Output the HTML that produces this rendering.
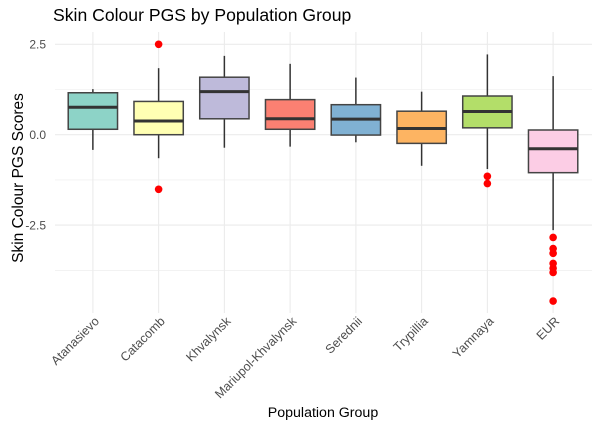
<!DOCTYPE html>
<html><head><meta charset="utf-8"><style>
html,body{margin:0;padding:0;background:#fff;}
svg{display:block;font-family:"Liberation Sans",sans-serif;}
</style></head><body>
<svg id="chart" width="600" height="431"></svg>
<script>
const categories=["Atanasievo","Catacomb","Khvalynsk","Mariupol-Khvalynsk","Serednii","Trypillia","Yamnaya","EUR"];
const lowWhisker=[-0.42,-0.65,-0.36,-0.33,-0.21,-0.86,-0.95,-2.64];
const q1=[0.15,0.0,0.44,0.15,-0.01,-0.24,0.19,-1.05];
const median=[0.76,0.38,1.19,0.44,0.43,0.17,0.64,-0.39];
const q3=[1.16,0.92,1.59,0.97,0.83,0.65,1.07,0.13];
const highWhisker=[1.26,1.84,2.18,1.96,1.58,1.19,2.22,1.62];
const outliers=[[],[2.5,-1.51],[],[],[],[],[-1.15,-1.35],[-2.84,-3.15,-3.28,-3.56,-3.69,-3.81,-4.60]];
const colors=["#8DD3C7","#FFFFB3","#BEBADA","#FB8072","#80B1D3","#FDB462","#B3DE69","#FCCDE5"];
const yTicks=[2.5,0,-2.5];
const yTickLabels=["2.5","0.0","-2.5"];
const yMinor=[1.25,-1.25,-3.75];

const NS="http://www.w3.org/2000/svg";
const svg=document.getElementById('chart');
const GL=55,GR=592,T=32,B=313;
const SL=60,SR=586;
const y=v=>134.7-36.16*v;
const step=(SR-SL)/categories.length;
const x=i=>SL+step*(i+0.5);
const bw=step*0.75;
function mk(t,a,p){const e=document.createElementNS(NS,t);for(const k in a)e.setAttribute(k,a[k]);(p||svg).appendChild(e);return e;}

let e;
e=mk('text',{x:53,y:21,'font-size':17.6,fill:'#000'});e.textContent='Skin Colour PGS by Population Group';



yMinor.forEach(v=>{e=mk('line',{x1:GL,x2:GR,y1:y(v),y2:y(v),stroke:'#ebebeb','stroke-width':0.6});

});
yTicks.forEach((v,i)=>{e=mk('line',{x1:GL,x2:GR,y1:y(v),y2:y(v),stroke:'#ebebeb','stroke-width':1.1});


e=mk('text',{x:46,y:y(v)+4.3,'font-size':12,fill:'#4d4d4d','text-anchor':'end'});e.textContent=yTickLabels[i];

});
categories.forEach((c,i)=>{e=mk('line',{x1:x(i),x2:x(i),y1:T,y2:B,stroke:'#ebebeb','stroke-width':1.1});

});

categories.forEach((c,i)=>{
  const g=mk('g',{});
  
  
  mk('line',{x1:x(i),x2:x(i),y1:y(highWhisker[i]),y2:y(lowWhisker[i]),stroke:'#333','stroke-width':1.5},g);
  mk('rect',{x:x(i)-bw/2,y:y(q3[i]),width:bw,height:y(q1[i])-y(q3[i]),fill:colors[i],stroke:'#444','stroke-width':1.5},g);
  mk('line',{x1:x(i)-bw/2,x2:x(i)+bw/2,y1:y(median[i]),y2:y(median[i]),stroke:'#333','stroke-width':3},g);
  outliers[i].forEach(o=>{const p=mk('circle',{cx:x(i),cy:y(o),r:3.8,fill:'#ff0000'},g);
    
    });
  const t=mk('text',{transform:`translate(${x(i)+7},${B+9}) rotate(-45)`,'font-size':12.5,fill:'#4d4d4d','text-anchor':'end'});
  t.textContent=c;
  
  
});

e=mk('text',{x:323,y:417,'font-size':14.2,fill:'#000','text-anchor':'middle'});e.textContent='Population Group';


e=mk('text',{transform:'translate(23,178) rotate(-90)','font-size':15.5,fill:'#000','text-anchor':'middle'});e.textContent='Skin Colour PGS Scores';


</script>
</body></html>
